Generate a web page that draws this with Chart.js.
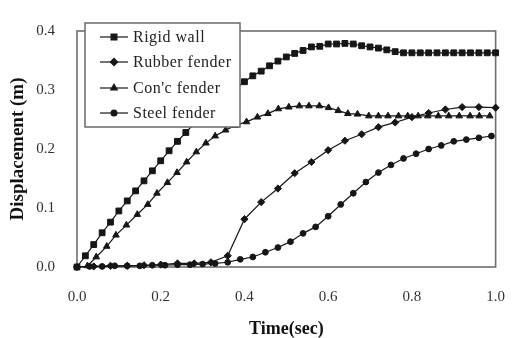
<!DOCTYPE html>
<html>
<head>
<meta charset="utf-8">
<script src="https://cdn.jsdelivr.net/npm/chart.js@4/dist/chart.umd.min.js"></script>
<style>
  html, body { margin: 0; padding: 0; background: #fff; }
  #wrap { width: 526px; height: 338px; }
</style>
</head>
<body>
<div id="wrap"><canvas id="c" width="526" height="338"></canvas></div>
<script>
// Displacement histories for the four berthing cases
const seriesNames = ['Rigid wall', 'Rubber fender', "Con'c fender", 'Steel fender'];

const rigidTime = [0.00,0.02,0.04,0.06,0.08,0.10,0.12,0.14,0.16,0.18,0.20,0.22,0.24,0.26,0.28,0.30,0.32,0.34,0.36,0.38,0.40,0.42,0.44,0.46,0.48,0.50,0.52,0.54,0.56,0.58,0.60,0.62,0.64,0.66,0.68,0.70,0.72,0.74,0.76,0.78,0.80,0.82,0.84,0.86,0.88,0.90,0.92,0.94,0.96,0.98,1.00];
const rigidDisp = [0.000,0.019,0.038,0.058,0.076,0.095,0.112,0.129,0.146,0.163,0.180,0.197,0.213,0.228,0.243,0.257,0.270,0.282,0.293,0.303,0.314,0.324,0.332,0.341,0.349,0.356,0.362,0.367,0.373,0.374,0.378,0.378,0.379,0.378,0.375,0.373,0.371,0.368,0.365,0.363,0.363,0.363,0.363,0.363,0.363,0.363,0.363,0.363,0.363,0.363,0.363];

const rubberTime = [0.00,0.04,0.08,0.12,0.16,0.20,0.24,0.28,0.32,0.36,0.40,0.44,0.48,0.52,0.56,0.60,0.64,0.68,0.72,0.76,0.80,0.84,0.88,0.92,0.96,1.00];
const rubberDisp = [0.000,0.001,0.002,0.002,0.003,0.004,0.006,0.006,0.008,0.019,0.081,0.110,0.133,0.159,0.178,0.198,0.214,0.225,0.237,0.245,0.254,0.261,0.267,0.271,0.271,0.270];

const concTime = [0.025,0.046,0.071,0.093,0.118,0.144,0.169,0.191,0.216,0.239,0.262,0.285,0.308,0.330,0.355,0.378,0.405,0.431,0.456,0.481,0.506,0.531,0.554,0.579,0.601,0.624,0.647,0.670,0.697,0.720,0.743,0.768,0.790,0.815,0.838,0.863,0.888,0.913,0.939,0.961,0.986];
const concDisp = [0.002,0.017,0.035,0.054,0.071,0.089,0.106,0.125,0.143,0.160,0.178,0.195,0.210,0.222,0.232,0.240,0.246,0.254,0.260,0.268,0.271,0.273,0.273,0.273,0.270,0.265,0.260,0.259,0.256,0.256,0.256,0.256,0.256,0.256,0.256,0.256,0.256,0.256,0.256,0.256,0.256];

const steelTime = [0.00,0.03,0.06,0.09,0.12,0.15,0.18,0.21,0.24,0.27,0.30,0.33,0.36,0.39,0.42,0.45,0.48,0.51,0.54,0.57,0.60,0.63,0.66,0.69,0.72,0.75,0.78,0.81,0.84,0.87,0.90,0.93,0.96,0.99];
const steelDisp = [0.000,0.001,0.001,0.002,0.002,0.002,0.003,0.003,0.004,0.004,0.005,0.006,0.008,0.013,0.017,0.025,0.033,0.043,0.057,0.068,0.086,0.106,0.125,0.144,0.160,0.173,0.184,0.192,0.200,0.206,0.213,0.216,0.219,0.222];

const xTicks = [0.0, 0.2, 0.4, 0.6, 0.8, 1.0];
const yTicks = [0.0, 0.1, 0.2, 0.3, 0.4];

const SERIF = "'Liberation Serif', 'Times New Roman', serif";
const INK = '#161616';

function pairs(ts, vs) { return ts.map((t, i) => ({ x: t, y: vs[i] })); }

const markers = [
  { style: 'rect', radius: 4.1 },
  { style: 'rectRot', radius: 3.6 },
  { style: 'triangle', radius: 3.8 },
  { style: 'circle', radius: 2.9 }
];

function lineSet(label, data, m) {
  return {
    label, data,
    borderColor: INK, borderWidth: 1.2,
    pointStyle: m.style, pointRadius: m.radius,
    pointBackgroundColor: INK, pointBorderColor: INK, pointBorderWidth: 1,
    tension: 0, fill: false, clip: false
  };
}

// frame around the plotting area, drawn underneath the curves
const frame = {
  id: 'frame',
  beforeDatasetsDraw(chart) {
    const { ctx, chartArea: a } = chart;
    ctx.save();
    ctx.strokeStyle = '#6e6e6e';
    ctx.lineWidth = 1.6;
    ctx.strokeRect(a.left, a.top, a.right - a.left, a.bottom - a.top);
    ctx.restore();
  }
};

// boxed key placed in the upper-left of the plotting area
const insetKey = {
  id: 'insetKey',
  afterDatasetsDraw(chart) {
    const { ctx } = chart;
    const box = { x: 85, y: 23, w: 155, h: 104 };
    const rows = [37, 62, 88, 113];
    ctx.save();
    ctx.fillStyle = '#fff';
    ctx.fillRect(box.x, box.y, box.w, box.h);
    ctx.strokeStyle = '#6a6a6a';
    ctx.lineWidth = 1.5;
    ctx.strokeRect(box.x, box.y, box.w, box.h);
    chart.data.datasets.forEach((ds, i) => {
      const y = rows[i];
      ctx.strokeStyle = INK;
      ctx.lineWidth = 1.2;
      ctx.beginPath();
      ctx.moveTo(100, y);
      ctx.lineTo(128, y);
      ctx.stroke();
      ctx.fillStyle = INK;
      Chart.helpers.drawPoint(ctx, {
        pointStyle: ds.pointStyle, radius: ds.pointRadius, rotation: 0, borderWidth: 1
      }, 114, y);
      ctx.fillStyle = '#222';
      ctx.font = '16px ' + SERIF;
      ctx.textAlign = 'left';
      ctx.textBaseline = 'middle';
      try { ctx.letterSpacing = '0.5px'; } catch (e) {}
      ctx.fillText(ds.label, 133, y + 1);
    });
    ctx.restore();
  }
};

new Chart(document.getElementById('c'), {
  type: 'line',
  data: {
    datasets: [
      lineSet(seriesNames[0], pairs(rigidTime, rigidDisp), markers[0]),
      lineSet(seriesNames[1], pairs(rubberTime, rubberDisp), markers[1]),
      lineSet(seriesNames[2], pairs(concTime, concDisp), markers[2]),
      lineSet(seriesNames[3], pairs(steelTime, steelDisp), markers[3])
    ]
  },
  options: {
    responsive: false,
    animation: false,
    devicePixelRatio: 1,
    layout: { padding: { top: 15, right: 10, bottom: 0, left: 0 } },
    plugins: { legend: { display: false }, tooltip: { enabled: false } },
    scales: {
      x: {
        type: 'linear', min: 0, max: 1,
        afterFit(scale) { scale.height = 71; },
        afterBuildTicks(scale) { scale.ticks = xTicks.map(v => ({ value: v })); },
        grid: { display: false, drawTicks: false },
        border: { display: false },
        ticks: {
          padding: 21, color: '#333',
          font: { family: SERIF, size: 15 },
          callback: v => Number(v).toFixed(1)
        },
        title: {
          display: true, text: 'Time(sec)', color: '#111',
          font: { family: SERIF, size: 18, weight: 'bold', lineHeight: 1.0 },
          padding: { top: 0, bottom: 0 }
        }
      },
      y: {
        type: 'linear', min: 0, max: 0.4,
        afterFit(scale) { scale.width = 77; },
        afterBuildTicks(scale) { scale.ticks = yTicks.map(v => ({ value: v })); },
        grid: { display: false, drawTicks: false },
        border: { display: false },
        ticks: {
          padding: 22, color: '#333',
          font: { family: SERIF, size: 15 },
          callback: v => Number(v).toFixed(1)
        },
        title: {
          display: true, text: 'Displacement (m)', color: '#111',
          font: { family: SERIF, size: 19, weight: 'bold' },
          padding: { top: 7, bottom: 0 }
        }
      }
    }
  },
  plugins: [frame, insetKey]
});
</script>
</body>
</html>
